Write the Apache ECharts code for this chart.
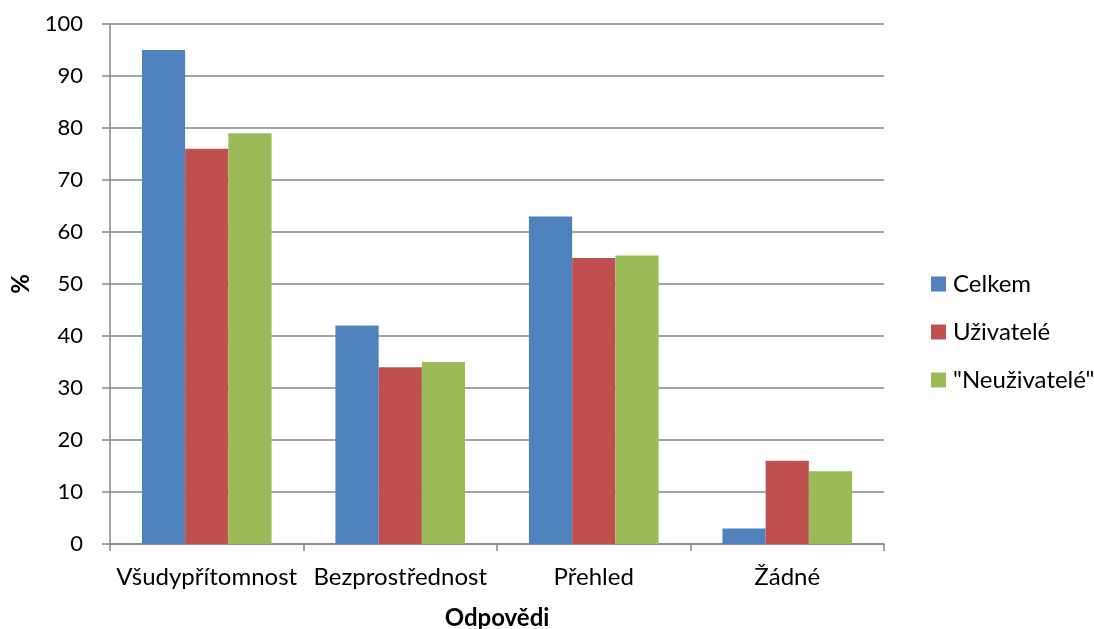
<!DOCTYPE html>
<html>
<head>
<meta charset="utf-8">
<script src="https://cdn.jsdelivr.net/npm/echarts@6/dist/echarts.min.js"></script>
<style>
  html, body { margin: 0; padding: 0; background: #fff; }
  #chart { width: 1094px; height: 629px; }
</style>
</head>
<body>
<div id="chart"></div>
<script>
const categories = ['Všudypřítomnost', 'Bezprostřednost', 'Přehled', 'Žádné'];
const celkem = [95, 42, 63, 3];
const uzivatele = [76, 34, 55, 16];
const neuzivatele = [79, 35, 55.5, 14];
const yTicks = [0, 10, 20, 30, 40, 50, 60, 70, 80, 90, 100];

const FONT = 'Lato, "Open Sans", sans-serif';
const GRID = '#868686';

const chart = echarts.init(document.getElementById('chart'), null, { renderer: 'canvas' });

function barSeries(name, data, color) {
  return {
    name: name,
    type: 'bar',
    data: data,
    barGap: '0%',
    barCategoryGap: '33%',
    itemStyle: { color: color },
    emphasis: { disabled: true }
  };
}

chart.setOption({
  animation: false,
  textStyle: { fontFamily: FONT },
  grid: {
    left: 110, right: 210, top: 24, bottom: 85,
    containLabel: false,
    outerBoundsMode: 'none'
  },
  legend: {
    orient: 'vertical',
    left: 926,
    top: 267,
    itemWidth: 15,
    itemHeight: 15,
    itemGap: 24,
    icon: 'rect',
    textStyle: { fontFamily: FONT, fontSize: 24, color: '#000', padding: [0, 0, 0, 2] },
    data: ['Celkem', 'Uživatelé', '"Neuživatelé"']
  },
  xAxis: {
    type: 'category',
    data: categories,
    name: 'Odpovědi',
    nameLocation: 'middle',
    nameGap: 62,
    nameTextStyle: { fontFamily: FONT, fontSize: 24, fontWeight: 'bold', color: '#000' },
    axisLine: { lineStyle: { color: GRID, width: 1.5 } },
    axisTick: { show: true, interval: 0, length: 7, alignWithLabel: false, lineStyle: { color: GRID, width: 1.5 } },
    axisLabel: { interval: 0, hideOverlap: false, fontFamily: FONT, fontSize: 24, color: '#000', margin: 21 }
  },
  yAxis: {
    type: 'value',
    min: 0,
    max: 100,
    interval: 10,
    name: '%',
    nameLocation: 'middle',
    nameGap: 77,
    nameRotate: 90,
    nameTextStyle: { fontFamily: FONT, fontSize: 24, fontWeight: 'bold', color: '#000' },
    axisLine: { show: true, lineStyle: { color: GRID, width: 1.5 } },
    axisTick: { show: true, length: 8, inside: false, lineStyle: { color: GRID, width: 1.5 } },
    axisLabel: {
      fontFamily: FONT, fontSize: 22, color: '#000', margin: 27,
      formatter: v => (yTicks.includes(v) ? String(v) : '')
    },
    splitLine: { lineStyle: { color: GRID, width: 1.5 } }
  },
  series: [
    barSeries('Celkem', celkem, '#4F81BD'),
    barSeries('Uživatelé', uzivatele, '#C0504D'),
    barSeries('"Neuživatelé"', neuzivatele, '#9BBB59')
  ]
});
</script>
</body>
</html>
